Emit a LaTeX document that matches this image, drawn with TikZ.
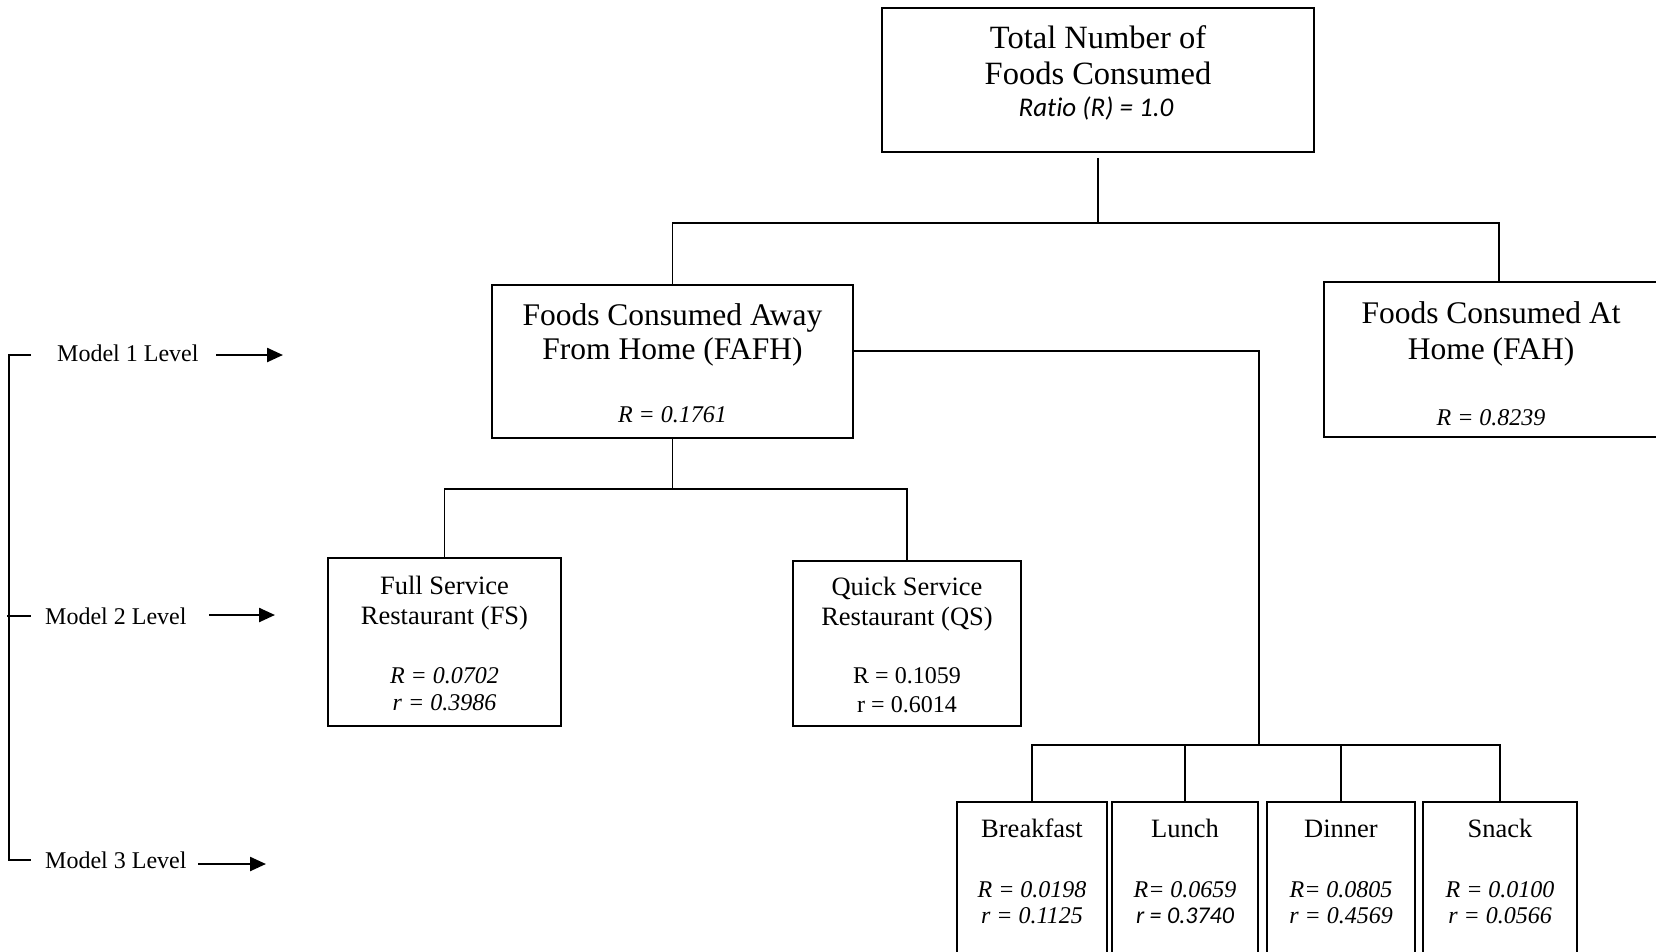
\documentclass[tikz,border=0pt]{standalone}
\usepackage{fontspec}
\setmainfont{Liberation Serif}
\newfontfamily\calfont[Ligatures=NoCommon]{Carlito}
\usetikzlibrary{arrows.meta}
\begin{document}
\begin{tikzpicture}[x=1pt,y=-1pt,
  box/.style={draw, line width=1.8pt, inner sep=0pt, rectangle},
  txt/.style={anchor=base, inner sep=0pt},
  lbl/.style={anchor=base west, inner sep=0pt, font=\fontsize{24}{28}\selectfont},
  conn/.style={line width=1.8pt},
  arr/.style={line width=2.4pt, -{Triangle[length=16pt,width=14pt]}},
  fTop/.style={font=\fontsize{32.5}{38}\selectfont},
  fRatio/.style={font=\fontsize{27}{32}\calfont\itshape},
  fMid/.style={font=\fontsize{31.5}{36}\selectfont},
  fSmall/.style={font=\fontsize{26.5}{31}\selectfont},
  fVal/.style={font=\fontsize{24}{28}\selectfont\itshape},
  fValUp/.style={font=\fontsize{24}{28}\selectfont},
  fValCal/.style={font=\fontsize{24}{28}\calfont\itshape}
]
\useasboundingbox (0,0) rectangle (1656,951);
\clip (0,0) rectangle (1656,951);

% boxes
\node[box, minimum width=432pt, minimum height=144pt] (top) at (1098,80) {};
\node[box, minimum width=361pt, minimum height=153pt] (fafh) at (672.5,361.5) {};
\node[box, minimum width=350pt, minimum height=155pt] (fah) at (1499,359.5) {};
\node[box, minimum width=233pt, minimum height=168pt] (fs) at (444.5,642) {};
\node[box, minimum width=228pt, minimum height=165pt] (qs) at (907,643.5) {};
\node[box, minimum width=150pt, minimum height=178pt] (bf) at (1032,891) {};
\node[box, minimum width=146pt, minimum height=178pt] (lu) at (1185,891) {};
\node[box, minimum width=148pt, minimum height=178pt] (di) at (1341,891) {};
\node[box, minimum width=154pt, minimum height=178pt] (sn) at (1500,891) {};

% texts
\node[txt, fTop] (topa) at (1098,48) {Total Number of};
\node[txt, fTop] (topb) at (1098,84) {Foods Consumed};
\node[txt, fRatio] (topc) at (1096,116) {Ratio (R) = 1.0};

\node[txt, fMid] (fafha) at (672.5,325) {Foods Consumed Away};
\node[txt, fMid] (fafhb) at (672.5,359) {From Home (FAFH)};
\node[txt, fVal] (fafhc) at (672.5,422) {R = 0.1761};

\node[txt, fMid] (faha) at (1491,323) {Foods Consumed At};
\node[txt, fMid] (fahb) at (1491,359) {Home (FAH)};
\node[txt, fVal] (fahc) at (1491,425) {R = 0.8239};

\node[txt, fSmall] (fsa) at (444.5,594) {Full Service};
\node[txt, fSmall] (fsb) at (444.5,624) {Restaurant (FS)};
\node[txt, fVal] (fsc) at (444.5,683) {R = 0.0702};
\node[txt, fVal] (fsd) at (444.5,710) {r = 0.3986};

\node[txt, fSmall] (qsa) at (907,595) {Quick Service};
\node[txt, fSmall] (qsb) at (907,625) {Restaurant (QS)};
\node[txt, fValUp] (qsc) at (907,683) {R = 0.1059};
\node[txt, fValUp] (qsd) at (907,712) {r = 0.6014};

\node[txt, fSmall] (bfa) at (1032,837) {Breakfast};
\node[txt, fVal] (bfb) at (1032,897) {R = 0.0198};
\node[txt, fVal] (bfc) at (1032,923) {r = 0.1125};

\node[txt, fSmall] (lua) at (1185,837) {Lunch};
\node[txt, fVal] (lub) at (1185,897) {R= 0.0659};
\node[txt, fValCal] (luc) at (1185,923) {r = 0.3740};

\node[txt, fSmall] (dia) at (1341,837) {Dinner};
\node[txt, fVal] (dib) at (1341,897) {R= 0.0805};
\node[txt, fVal] (dic) at (1341,923) {r = 0.4569};

\node[txt, fSmall] (sna) at (1500,837) {Snack};
\node[txt, fVal] (snb) at (1500,897) {R = 0.0100};
\node[txt, fVal] (snc) at (1500,923) {r = 0.0566};

% connectors
\coordinate (bus1) at (0,223);
\coordinate (bus2) at (0,489);
\coordinate (mealbus) at (1259,745);
\coordinate (fr) at ([yshift=10.5pt]fafh.east);

\draw[conn, shorten <=5pt] (top.south) -- (top.south |- bus1);
\draw[conn] (fafh.north) -- (fafh.north |- bus1) -- (fah.north |- bus1) -- (fah.north);
\draw[conn] (fafh.south) -- (fafh.south |- bus2);
\draw[conn] (fs.north) -- (fs.north |- bus2) -- (qs.north |- bus2) -- (qs.north);
\draw[conn] (fr) -| (mealbus);
\draw[conn] (bf.north) -- (bf.north |- mealbus) -- (sn.north |- mealbus) -- (sn.north);
\draw[conn] (lu.north) -- (lu.north |- mealbus);
\draw[conn] (di.north) -- (di.north |- mealbus);

% left level bracket
\coordinate (bt) at (9,355);
\coordinate (bb) at (9,860);
\draw[conn] (31,355) -- (bt) -- (bb) -- (31,860);
\draw[conn] (7,616) -- (31,616);

\node[lbl] (m1) at (57,361) {Model 1 Level};
\node[lbl] (m2) at (45,624) {Model 2 Level};
\node[lbl] (m3) at (45,868) {Model 3 Level};

\coordinate (a1s) at (216,355); \coordinate (a1e) at (283,355);
\coordinate (a2s) at (209,615); \coordinate (a2e) at (275,615);
\coordinate (a3s) at (198,864); \coordinate (a3e) at (266,864);
\draw[arr] (a1s) -- (a1e);
\draw[arr] (a2s) -- (a2e);
\draw[arr] (a3s) -- (a3e);
\end{tikzpicture}
\end{document}
